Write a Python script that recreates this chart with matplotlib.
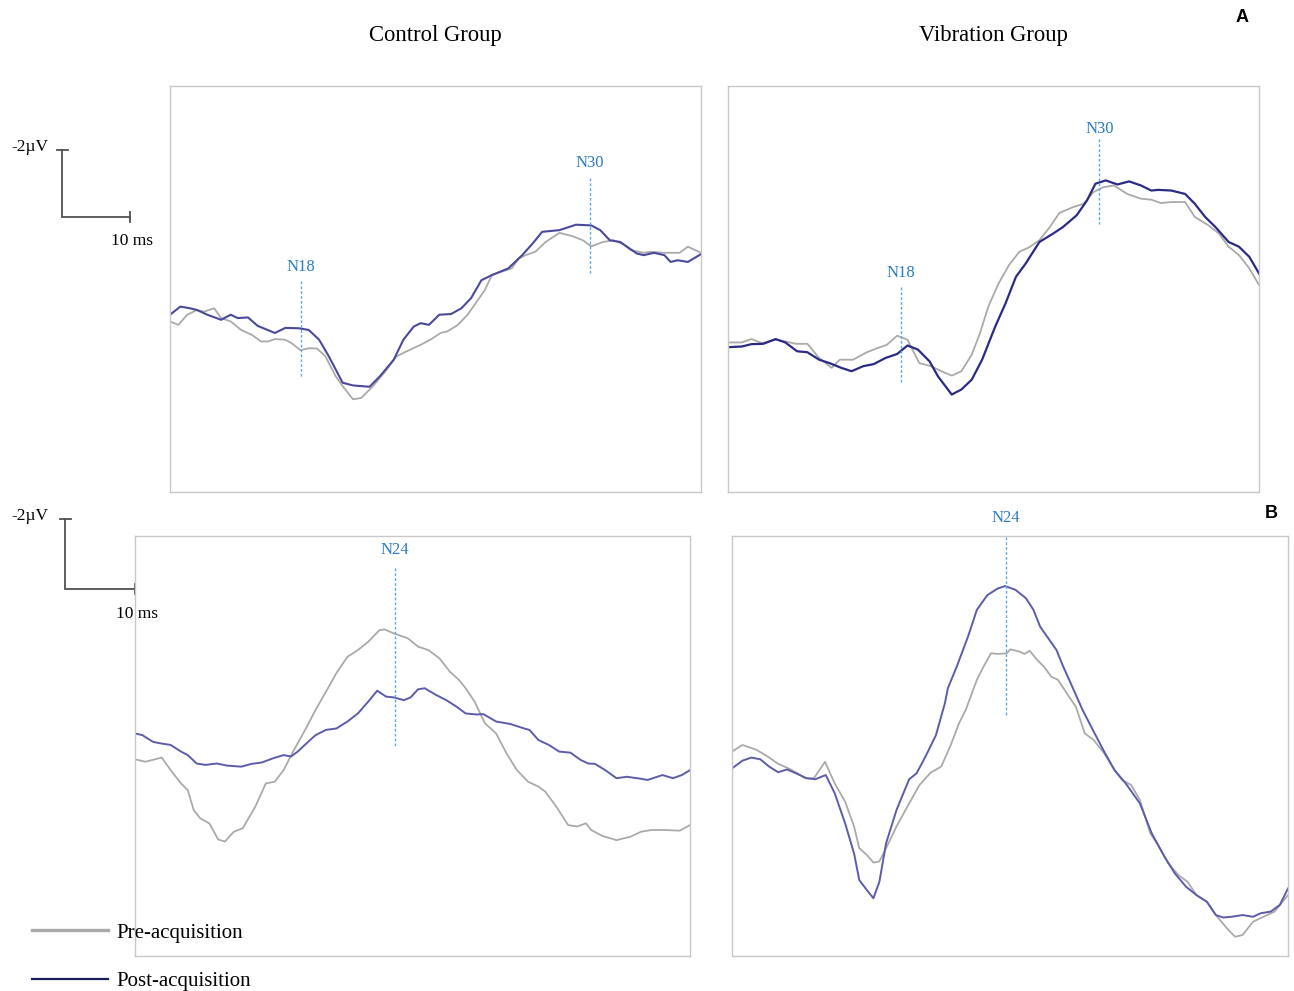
import matplotlib
matplotlib.use("Agg")
import matplotlib.pyplot as plt
from matplotlib.lines import Line2D

plt.rcParams['font.family'] = ['Liberation Serif', 'DejaVu Serif']

W, H = 1294, 991

# --- A: control group (time in ms, amplitude in uV, negative up) ---
ctrl_a_t_pre = [0, 1.2, 2.5, 3.9, 4.9, 6.4, 7.4, 8.8, 10.3, 11.8, 13.2, 14.2, 15.2, 16.7, 17.6, 18.9,
                20.1, 21.3, 22.5, 24.0, 25.0, 26.5, 27.7, 29.4, 31.4, 32.8, 34.3, 36.3, 37.7, 39.2,
                40.2, 41.7, 43.1, 44.1, 45.6, 46.6, 48.0, 49.5, 50.5, 51.5, 52.9, 54.4, 56.4, 58.3,
                59.8, 61.0, 62.7, 64.2, 65.7, 66.7, 68.6, 69.6, 71.6, 73.8, 75.0, 76.9]
ctrl_a_pre = [0.96, 1.06, 0.76, 0.62, 0.67, 0.57, 0.86, 0.96, 1.21, 1.35, 1.55, 1.55, 1.48, 1.50,
              1.60, 1.81, 1.75, 1.76, 1.99, 2.58, 2.87, 3.26, 3.22, 2.87, 2.38, 1.99, 1.84, 1.65,
              1.50, 1.30, 1.25, 1.06, 0.76, 0.47, 0.03, -0.41, -0.51, -0.61, -0.90, -1.00, -1.10,
              -1.39, -1.66, -1.56, -1.44, -1.26, -1.39, -1.44, -1.32, -1.15, -1.07, -1.10, -1.07,
              -1.07, -1.25, -1.07]
ctrl_a_t_post = [0, 1.5, 2.9, 3.9, 5.4, 7.4, 8.8, 9.8, 11.3, 12.7, 15.2, 16.7, 18.6, 20.1, 21.6,
                 23.0, 25.0, 26.5, 28.9, 30.4, 32.4, 33.8, 35.3, 36.3, 37.5, 39.0, 40.7, 42.2, 43.6,
                 45.1, 46.6, 49.0, 51.0, 52.5, 53.9, 56.4, 58.8, 61.0, 62.3, 63.7, 65.2, 67.6, 68.6,
                 70.1, 71.6, 72.5, 73.5, 75.0, 76.9]
ctrl_a_post = [0.76, 0.52, 0.57, 0.62, 0.76, 0.91, 0.76, 0.86, 0.84, 1.09, 1.30, 1.15, 1.16, 1.21,
               1.50, 1.99, 2.77, 2.85, 2.89, 2.58, 2.09, 1.50, 1.11, 1.01, 1.06, 0.76, 0.74, 0.57,
               0.27, -0.26, -0.41, -0.61, -1.00, -1.34, -1.69, -1.74, -1.90, -1.88, -1.74, -1.44,
               -1.39, -1.05, -1.00, -1.07, -1.00, -0.80, -0.85, -0.80, -1.03]

# --- A: vibration group ---
vib_a_t_pre = [0, 2.0, 3.4, 4.9, 6.9, 8.3, 9.8, 11.5, 13.2, 15.0, 16.2, 18.1, 20.1, 21.6, 23.0,
               24.5, 26.0, 27.7, 29.4, 30.9, 32.4, 33.8, 35.3, 36.5, 37.7, 39.2, 40.7, 42.2, 43.6,
               45.1, 46.6, 48.0, 50.0, 51.5, 52.9, 54.4, 55.9, 57.8, 59.8, 61.3, 62.7, 64.2, 66.2,
               67.6, 69.6, 71.1, 72.5, 74.0, 75.5, 76.9]
vib_a_pre = [1.58, 1.58, 1.48, 1.60, 1.50, 1.55, 1.62, 1.62, 2.04, 2.33, 2.09, 2.09, 1.87, 1.75,
             1.65, 1.38, 1.50, 2.19, 2.28, 2.43, 2.56, 2.43, 1.94, 1.30, 0.52, -0.17, -0.71, -1.10,
             -1.23, -1.44, -1.83, -2.25, -2.42, -2.52, -2.86, -3.01, -3.06, -2.81, -2.67, -2.64,
             -2.54, -2.57, -2.57, -2.13, -1.88, -1.64, -1.25, -1.00, -0.61, -0.12]
vib_a_t_post = [0, 2.0, 3.4, 5.1, 6.9, 8.3, 10.0, 11.5, 13.2, 14.7, 16.4, 17.9, 19.6, 21.1, 22.8,
                24.5, 26.0, 27.5, 29.2, 30.4, 32.4, 33.8, 35.3, 36.8, 38.7, 40.2, 41.7, 43.1, 45.1,
                47.1, 48.5, 50.5, 52.0, 53.2, 54.7, 56.4, 58.1, 59.8, 61.3, 62.3, 64.2, 66.2, 67.6,
                69.1, 70.6, 72.5, 74.0, 75.5, 76.9]
vib_a_post = [1.72, 1.70, 1.63, 1.62, 1.48, 1.58, 1.84, 1.87, 2.09, 2.19, 2.33, 2.43, 2.28, 2.22,
              2.04, 1.92, 1.67, 1.79, 2.14, 2.58, 3.12, 2.97, 2.68, 2.09, 1.11, 0.42, -0.36, -0.75,
              -1.39, -1.64, -1.83, -2.18, -2.62, -3.11, -3.21, -3.09, -3.18, -3.06, -2.91, -2.93,
              -2.91, -2.81, -2.52, -2.13, -1.83, -1.39, -1.25, -0.95, -0.46]

# --- B: control group ---
ctrl_b_t_pre = [0, 1.4, 3.6, 4.8, 6.2, 7.1, 7.9, 8.8, 10.0, 11.2, 12.1, 13.3, 14.5, 16.2, 17.6,
                18.8, 20.0, 21.4, 22.9, 24.3, 25.7, 27.1, 28.6, 30.0, 31.4, 32.9, 33.6, 34.8, 36.7,
                38.1, 39.5, 41.0, 42.4, 43.6, 44.5, 45.7, 47.1, 48.6, 50.0, 51.4, 52.9, 54.3, 55.2,
                56.7, 58.3, 59.5, 60.7, 61.4, 62.9, 64.8, 66.7, 68.1, 69.5, 71.4, 73.3, 74.7]
ctrl_b_pre = [0.38, 0.45, 0.33, 0.69, 1.07, 1.26, 1.83, 2.07, 2.21, 2.67, 2.73, 2.45, 2.35, 1.73,
              1.07, 1.02, 0.69, 0.11, -0.46, -1.03, -1.55, -2.08, -2.55, -2.74, -2.98, -3.31, -3.33,
              -3.22, -3.08, -2.84, -2.74, -2.50, -2.12, -1.89, -1.65, -1.27, -0.65, -0.36, 0.21,
              0.69, 1.02, 1.16, 1.30, 1.73, 2.26, 2.30, 2.21, 2.40, 2.57, 2.69, 2.59, 2.45, 2.40,
              2.40, 2.42, 2.26]
ctrl_b_t_post = [0, 1.0, 2.4, 3.3, 4.8, 6.2, 7.1, 8.3, 9.5, 11.0, 12.4, 14.3, 15.7, 17.1, 18.6,
                 20.0, 21.0, 21.9, 23.3, 24.3, 25.7, 27.1, 28.6, 30.0, 31.4, 32.6, 33.8, 34.8, 36.2,
                 37.1, 38.1, 39.0, 40.5, 41.9, 43.3, 44.5, 46.0, 46.9, 48.6, 50.5, 52.4, 53.1, 54.3,
                 55.7, 57.1, 58.6, 60.0, 61.0, 61.9, 63.3, 64.8, 66.2, 67.6, 69.0, 71.0, 72.4, 73.6,
                 74.7]
ctrl_b_post = [-0.36, -0.31, -0.12, -0.08, -0.03, 0.16, 0.26, 0.50, 0.54, 0.50, 0.56, 0.59, 0.51,
               0.47, 0.35, 0.26, 0.30, 0.16, -0.12, -0.31, -0.46, -0.50, -0.70, -0.93, -1.27, -1.58,
               -1.41, -1.39, -1.31, -1.39, -1.62, -1.65, -1.46, -1.31, -1.12, -0.93, -0.90, -0.91,
               -0.70, -0.63, -0.50, -0.46, -0.17, -0.03, 0.16, 0.19, 0.40, 0.50, 0.51, 0.69, 0.92,
               0.88, 0.92, 0.97, 0.83, 0.92, 0.83, 0.69]

# --- B: vibration group ---
vib_b_t_pre = [0, 1.4, 3.3, 4.8, 6.2, 7.6, 8.8, 9.8, 11.0, 12.5, 13.8, 15.2, 16.4, 17.1, 18.1, 19.0,
               19.8, 20.7, 22.1, 23.8, 25.2, 26.7, 28.1, 29.3, 30.5, 31.4, 32.9, 33.8, 34.8, 35.7,
               36.9, 37.4, 38.6, 39.3, 40.0, 41.0, 41.9, 42.9, 43.8, 45.0, 46.2, 47.4, 48.6, 50.0,
               51.4, 52.4, 53.6, 54.8, 56.2, 57.1, 58.6, 60.0, 61.2, 62.4, 63.8, 65.2, 66.7, 67.6,
               68.6, 70.0, 71.4, 72.9, 74.7]
vib_b_pre = [0.16, -0.03, 0.11, 0.30, 0.51, 0.64, 0.78, 0.92, 0.92, 0.45, 1.07, 1.59, 2.30, 2.92,
             3.11, 3.33, 3.30, 2.92, 2.30, 1.64, 1.11, 0.76, 0.59, 0.02, -0.65, -1.03, -1.89, -2.27,
             -2.65, -2.63, -2.65, -2.76, -2.70, -2.63, -2.72, -2.46, -2.27, -1.98, -1.89, -1.50,
             -1.12, -0.36, -0.17, 0.21, 0.69, 0.97, 1.11, 1.54, 2.50, 2.78, 3.35, 3.69, 3.88, 4.26,
             4.45, 4.88, 5.26, 5.45, 5.40, 5.02, 4.88, 4.73, 4.26]
vib_b_t_post = [0, 1.4, 2.6, 3.8, 5.0, 6.2, 7.4, 8.6, 10.0, 11.2, 12.6, 13.8, 15.2, 16.4, 17.1, 18.1,
                19.0, 19.8, 20.7, 22.1, 23.8, 24.8, 26.0, 27.4, 28.6, 29.0, 30.2, 31.7, 32.9, 34.3,
                35.7, 36.7, 38.1, 39.5, 40.5, 41.4, 43.6, 44.5, 45.7, 47.1, 48.6, 50.0, 51.4, 52.9,
                54.8, 56.4, 58.1, 59.5, 61.0, 62.4, 63.8, 65.0, 66.0, 67.1, 68.6, 70.0, 71.0, 72.4,
                73.6, 74.7]
vib_b_post = [0.64, 0.42, 0.33, 0.38, 0.59, 0.75, 0.67, 0.78, 0.92, 0.95, 0.83, 1.35, 2.21, 3.07,
              3.83, 4.11, 4.35, 3.88, 2.78, 1.83, 0.95, 0.78, 0.30, -0.31, -1.22, -1.65, -2.27,
              -3.12, -3.89, -4.31, -4.50, -4.57, -4.46, -4.22, -3.89, -3.41, -2.74, -2.27, -1.70,
              -1.03, -0.41, 0.16, 0.69, 1.07, 1.64, 2.50, 3.16, 3.64, 4.02, 4.26, 4.45, 4.83, 4.90,
              4.88, 4.83, 4.88, 4.78, 4.73, 4.54, 4.07]

# peak markers: name, latency, line top, line bottom, label offset (pt)
ctrl_a_peaks = [("N18", 19.0, -0.25, 2.63, 4), ("N30", 60.8, -3.29, -0.46, 5)]
vib_a_peaks = [("N18", 25.0, -0.07, 2.82, 4), ("N30", 53.8, -4.44, -1.93, 1)]
ctrl_b_peaks = [("N24", 35.0, -5.09, 0.02, 7)]
vib_b_peaks = [("N24", 36.8, -5.97, -0.89, 8)]

PRE_COLOR = "#aaaaaa"
PEAK_COLOR = "#5aaae6"
PEAK_TEXT = "#2a7cc4"
FRAME = "#c8c8c8"
BAR = "#505050"


def add_panel(fig, box, t_pre, pre, t_post, post, post_color, post_lw, xmax, peaks):
    x0, y0, x1, y1 = box
    ax = fig.add_axes([x0 / W, 1 - y1 / H, (x1 - x0) / W, (y1 - y0) / H])
    ax.plot(t_pre, pre, color=PRE_COLOR, lw=1.3)
    ax.plot(t_post, post, color=post_color, lw=post_lw)
    for name, t, top, bottom, off in peaks:
        ax.plot([t, t], [top, bottom], color=PEAK_COLOR, lw=1.0, ls=(0, (2, 1.5)))
        ax.annotate(name, (t, top), xytext=(0, off), textcoords="offset points",
                    ha="center", va="bottom", color=PEAK_TEXT, fontsize=12)
    ax.set_xlim(0, xmax)
    ax.set_ylim(6.0, -6.0)  # negative up
    ax.set_xticks([])
    ax.set_yticks([])
    for s in ax.spines.values():
        s.set_color(FRAME)
        s.set_linewidth(1.0)
    ax.patch.set_alpha(0)
    return ax


fig = plt.figure(figsize=(W / 100, H / 100), dpi=100)

# background layer in pixel units for scale bars and headings
bg = fig.add_axes([0, 0, 1, 1])
bg.set_xlim(0, W)
bg.set_ylim(H, 0)
bg.axis("off")


def scale_bar(x, ytop, ybot, xend, lbl_y, lbl_ms):
    bg.plot([x, x, xend], [ytop, ybot, ybot], color=BAR, lw=1.3, solid_joinstyle="miter")
    bg.plot([x - 5, x + 6], [ytop, ytop], color=BAR, lw=1.3)
    bg.plot([xend, xend], [ybot - 5, ybot + 5], color=BAR, lw=1.3)
    bg.text(48, lbl_y, "-2\u00b5V", ha="right", va="center", fontsize=12.5)
    bg.text(xend + 2, lbl_ms + 1, "10 ms", ha="center", va="center", fontsize=12.5)


scale_bar(62, 150, 217, 130, 147, 240)
scale_bar(65, 519, 589, 135, 516, 613)

bg.text(435, 35, "Control Group", ha="center", va="center", fontsize=16.3)
bg.text(993, 35, "Vibration Group", ha="center", va="center", fontsize=16.3)
bg.text(1242, 17, "A", ha="center", va="center", fontsize=13, fontweight="bold",
        family="Liberation Sans")
bg.text(1271, 514, "B", ha="center", va="center", fontsize=13, fontweight="bold",
        family="Liberation Sans")

add_panel(fig, (170, 86, 701, 492), ctrl_a_t_pre, ctrl_a_pre, ctrl_a_t_post, ctrl_a_post,
          "#4a4a9c", 1.5, 76.9, ctrl_a_peaks)
add_panel(fig, (728, 86, 1259, 492), vib_a_t_pre, vib_a_pre, vib_a_t_post, vib_a_post,
          "#2b2b86", 1.6, 76.9, vib_a_peaks)
add_panel(fig, (135, 536, 690, 956), ctrl_b_t_pre, ctrl_b_pre, ctrl_b_t_post, ctrl_b_post,
          "#5c5cab", 1.4, 74.7, ctrl_b_peaks)
add_panel(fig, (732, 536, 1288, 956), vib_b_t_pre, vib_b_pre, vib_b_t_post, vib_b_post,
          "#5c5cab", 1.4, 74.7, vib_b_peaks)

handles = [Line2D([], [], color="#aaaaaa", lw=2.4),
           Line2D([], [], color="#1d1d5c", lw=1.6)]
fig.legend(handles, ["Pre-acquisition", "Post-acquisition"], loc="upper left",
           bbox_to_anchor=(32 / W, 1 - 923 / H), frameon=False, fontsize=15,
           handlelength=3.65, handletextpad=0.4, labelspacing=1.4,
           borderpad=0, borderaxespad=0)

fig.savefig("out.png", dpi=100)
